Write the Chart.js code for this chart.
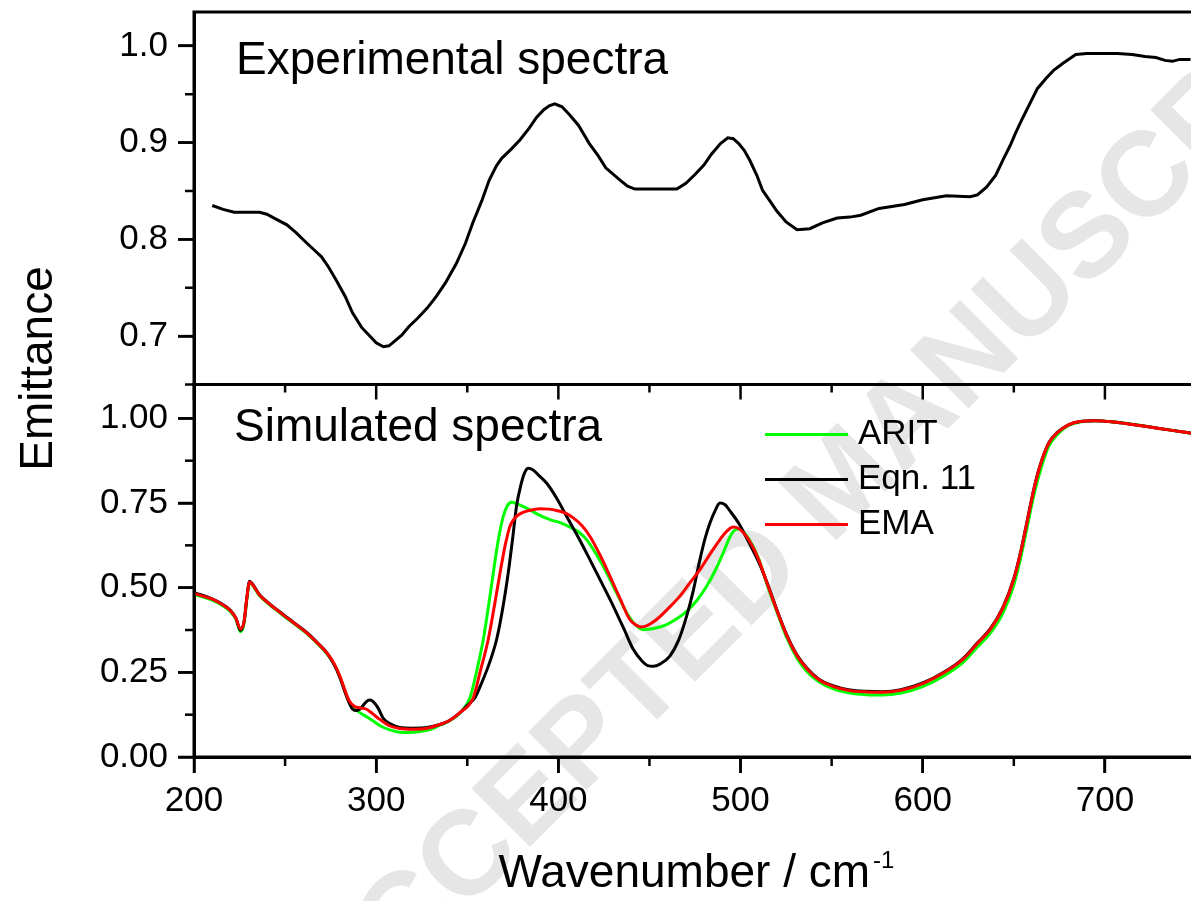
<!DOCTYPE html>
<html>
<head>
<meta charset="utf-8">
<script src="https://cdn.jsdelivr.net/npm/chart.js@4.4.1/dist/chart.umd.min.js"></script>
<style>
  html, body { margin: 0; padding: 0; background: #fff; overflow: hidden; }
  #wrap { width: 1191px; height: 901px; overflow: hidden; }
</style>
</head>
<body>
<div id="wrap"><canvas id="grafico" width="1196" height="901"></canvas></div>
<script>
// experimental spectrum (top panel)
const expX = [210, 216, 222, 230, 236, 240, 245, 251, 256, 262, 266, 270, 274, 278, 283, 287, 292, 297, 300, 304,
  307, 309, 314, 318, 323, 328, 333, 338, 344, 349, 353, 358, 362, 366, 369, 374, 379, 384, 388, 392,
  395, 398, 402, 406, 411, 417, 422, 426, 434, 438, 442, 450, 458, 465, 470, 475, 480, 484, 489, 493,
  496, 499, 502, 505, 509, 512, 516, 520, 525, 531, 538, 545, 553, 560, 566, 576, 590, 600, 613, 626,
  630, 635, 640, 644, 648, 651, 655, 659, 663, 668, 672, 677, 684, 690, 699, 707, 715, 722, 728, 733,
  737, 741, 747];
const expY = [0.835, 0.831, 0.828, 0.828, 0.828, 0.826, 0.821, 0.815, 0.807, 0.796, 0.789, 0.782, 0.771, 0.758, 0.741, 0.724, 0.709, 0.699, 0.693, 0.689,
  0.690, 0.693, 0.701, 0.710, 0.719, 0.729, 0.741, 0.755, 0.775, 0.796, 0.817, 0.840, 0.861, 0.876, 0.884, 0.893, 0.903, 0.915, 0.926, 0.934,
  0.938, 0.940, 0.937, 0.929, 0.918, 0.899, 0.886, 0.874, 0.861, 0.855, 0.852, 0.852, 0.852, 0.852, 0.858, 0.867, 0.877, 0.888, 0.899, 0.905,
  0.904, 0.899, 0.892, 0.882, 0.866, 0.851, 0.840, 0.829, 0.818, 0.810, 0.811, 0.817, 0.822, 0.823, 0.825, 0.832, 0.836, 0.841, 0.845, 0.844,
  0.846, 0.854, 0.866, 0.882, 0.897, 0.910, 0.926, 0.941, 0.956, 0.967, 0.975, 0.982, 0.991, 0.992, 0.992, 0.992, 0.991, 0.989, 0.988, 0.985,
  0.984, 0.986, 0.986];

// simulated spectra (bottom panel)
const aritX = [200, 205, 210, 215, 220, 223, 225.5, 227.5, 229, 230.5, 232, 236, 240, 247, 255, 262, 268, 273, 277, 280,
  283, 285, 288, 291, 295, 298.4, 303, 307.6, 312, 317, 324, 330, 335, 340, 346, 351.5, 355, 358.8, 361.5, 364.3,
  367, 369.8, 372, 374.4, 377, 382.6, 389, 395.4, 401, 406.4, 411, 415.5, 421, 426.5, 432, 437.5, 442, 446.6, 453, 459.4,
  465, 470.4, 476, 481.4, 486, 490.5, 494, 496, 498.7, 501, 505, 510, 514.5, 520, 525.5, 531, 536.5, 543, 551, 560,
  569, 578, 588, 600, 612, 622, 630, 637, 644, 650, 654, 657.5, 661, 664.8, 669, 674, 680, 687, 695, 705,
  715, 723, 735, 750];
const aritY = [0.480, 0.472, 0.463, 0.449, 0.429, 0.407, 0.370, 0.395, 0.465, 0.515, 0.508, 0.476, 0.456, 0.426, 0.393, 0.364, 0.333, 0.305, 0.273, 0.238,
  0.193, 0.165, 0.145, 0.131, 0.118, 0.106, 0.090, 0.080, 0.074, 0.072, 0.075, 0.082, 0.094, 0.106, 0.130, 0.175, 0.250, 0.347, 0.440, 0.544,
  0.640, 0.711, 0.742, 0.752, 0.748, 0.735, 0.716, 0.701, 0.692, 0.679, 0.665, 0.642, 0.597, 0.544, 0.484, 0.426, 0.392, 0.376, 0.380, 0.391,
  0.408, 0.430, 0.462, 0.504, 0.550, 0.603, 0.648, 0.666, 0.673, 0.668, 0.640, 0.585, 0.510, 0.428, 0.350, 0.292, 0.252, 0.222, 0.201, 0.189,
  0.184, 0.183, 0.189, 0.208, 0.241, 0.279, 0.325, 0.365, 0.425, 0.508, 0.593, 0.683, 0.773, 0.850, 0.916, 0.953, 0.979, 0.990, 0.993, 0.989,
  0.983, 0.976, 0.966, 0.954];

const eqnX = [200, 205, 210, 215, 220, 223, 225.5, 227.5, 229, 230.5, 232, 236, 240, 247, 255, 262, 268, 273, 277, 280,
  283, 285, 287, 289.5, 292, 294.5, 296.5, 298.5, 301, 304, 308, 313, 320, 328, 335, 340, 346, 350, 354.2, 358,
  362, 366.1, 369.5, 372.5, 375, 377, 379.5, 381.5, 383.5, 386, 389, 393.5, 399, 404.5, 411, 417.3, 424, 430.2, 436, 441.1,
  446, 449, 452.1, 456, 461.2, 466, 470.4, 474, 477.7, 480.5, 483.2, 486, 488.7, 491.5, 494, 499, 503, 507, 511, 514.5,
  520, 525.5, 531, 536.5, 543, 551, 560, 569, 578, 588, 600, 612, 622, 630, 637, 644, 650, 654, 657.5, 661,
  664.3, 669, 673.5, 680, 686.3, 695, 705, 715, 723, 735, 750];
const eqnY = [0.485, 0.477, 0.467, 0.453, 0.433, 0.410, 0.374, 0.400, 0.470, 0.519, 0.512, 0.479, 0.459, 0.429, 0.396, 0.367, 0.336, 0.307, 0.272, 0.236,
  0.190, 0.162, 0.142, 0.137, 0.147, 0.163, 0.168, 0.163, 0.145, 0.113, 0.097, 0.087, 0.085, 0.087, 0.096, 0.107, 0.131, 0.152, 0.175, 0.220,
  0.275, 0.347, 0.440, 0.544, 0.650, 0.740, 0.805, 0.840, 0.853, 0.848, 0.833, 0.809, 0.765, 0.711, 0.648, 0.583, 0.512, 0.445, 0.378, 0.318,
  0.283, 0.270, 0.268, 0.275, 0.298, 0.345, 0.416, 0.490, 0.583, 0.645, 0.691, 0.727, 0.750, 0.745, 0.728, 0.690, 0.650, 0.608, 0.563, 0.516,
  0.434, 0.359, 0.301, 0.262, 0.230, 0.210, 0.198, 0.194, 0.193, 0.199, 0.219, 0.252, 0.290, 0.337, 0.378, 0.442, 0.527, 0.612, 0.702, 0.792,
  0.859, 0.926, 0.957, 0.981, 0.991, 0.993, 0.989, 0.982, 0.976, 0.966, 0.954];

const emaX = [200, 205, 210, 215, 220, 223, 225.5, 227.5, 229, 230.5, 232, 236, 240, 247, 255, 262, 268, 273, 277, 280,
  283, 285, 288, 291, 294.7, 298, 302, 307, 313, 320, 328, 335, 340, 346, 353.3, 357, 361.5, 365, 368, 371,
  373.4, 376, 378.9, 384, 389.9, 395, 399, 404, 408.2, 413, 417.3, 423, 428.3, 434, 439.2, 442.5, 445.6, 449, 453.9, 460,
  466.7, 472, 477.7, 483, 488.7, 492.5, 496, 499, 502, 506, 510, 514.5, 520, 525.5, 531, 536.5, 543, 551, 560, 569,
  578, 588, 600, 612, 622, 630, 637, 644, 650, 654, 657.5, 661, 664.3, 669, 673.5, 680, 686.3, 695, 705, 715,
  723, 735, 750];
const emaY = [0.483, 0.475, 0.466, 0.452, 0.432, 0.410, 0.378, 0.400, 0.470, 0.517, 0.510, 0.478, 0.458, 0.428, 0.395, 0.366, 0.335, 0.307, 0.275, 0.240,
  0.195, 0.168, 0.150, 0.145, 0.141, 0.128, 0.111, 0.093, 0.084, 0.082, 0.085, 0.096, 0.107, 0.131, 0.175, 0.250, 0.347, 0.450, 0.544, 0.630,
  0.681, 0.705, 0.718, 0.728, 0.733, 0.732, 0.728, 0.720, 0.706, 0.683, 0.652, 0.595, 0.534, 0.466, 0.406, 0.390, 0.384, 0.389, 0.406, 0.437,
  0.475, 0.513, 0.553, 0.597, 0.642, 0.667, 0.679, 0.675, 0.660, 0.628, 0.582, 0.514, 0.432, 0.357, 0.299, 0.260, 0.228, 0.208, 0.196, 0.192,
  0.191, 0.197, 0.217, 0.250, 0.288, 0.335, 0.376, 0.440, 0.525, 0.610, 0.700, 0.790, 0.858, 0.925, 0.956, 0.981, 0.991, 0.993, 0.989, 0.982,
  0.976, 0.966, 0.954];

// ticks
const xTicks = [200, 300, 400, 500, 600, 700];
const xMinor = [250, 350, 450, 550, 650];
const topTicks = [0.7, 0.8, 0.9, 1.0];
const topMinor = [0.65, 0.75, 0.85, 0.95];
const botTicks = [0, 0.25, 0.5, 0.75, 1.0];
const botMinor = [0.125, 0.375, 0.625, 0.875];

const FONT = '"Liberation Sans", Arial, Helvetica, sans-serif';
Chart.defaults.font.family = FONT;
Chart.defaults.color = '#000';

function punti(xs, ys) {
    return xs.map((x, i) => ({ x: x, y: ys[i] }));
}

function asse(ticks, fmt) {
    return {
        type: 'linear',
        position: 'left',
        stack: 'pannelli',
        stackWeight: 1,
        afterBuildTicks: s => { s.ticks = ticks.map(v => ({ value: v })); },
        afterFit: s => { s.width = 194; s.paddingTop = 0; s.paddingBottom = 0; },
        ticks: { font: { size: 35 }, color: '#000', padding: 10, callback: v => v.toFixed(fmt) },
        grid: { display: true, drawOnChartArea: false, drawTicks: true, tickLength: 16, tickWidth: 2.5, tickColor: '#000' },
        border: { display: true, color: '#000', width: 3 }
    };
}

const yTop = Object.assign(asse(topTicks, 1), { min: 0.65, max: 1.035, weight: 1 });
const yBot = Object.assign(asse(botTicks, 2), { min: 0, max: 1.1, weight: 0 });

const cornice = {
    id: 'cornice',
    beforeDraw(chart) {
        // watermark
        const ctx = chart.ctx;
        ctx.save();
        ctx.translate(845, 485);
        ctx.rotate(-Math.PI / 4);
        ctx.font = 'bold 120px ' + FONT;
        ctx.fillStyle = '#e6e6e6';
        ctx.textAlign = 'center';
        ctx.textBaseline = 'middle';
        ctx.fillText('ACCEPTED MANUSCRIPT', 0, 0);
        ctx.restore();
    },
    afterDraw(chart) {
        const ctx = chart.ctx;
        const xs = chart.scales.x, yt = chart.scales.yTop, yb = chart.scales.yBot;
        const left = xs.left, right = xs.right;
        ctx.save();
        ctx.strokeStyle = '#000';
        ctx.lineWidth = 3;
        ctx.strokeRect(left, yt.top, right - left, yt.bottom - yt.top);
        ctx.strokeRect(left, yb.top, right - left, yb.bottom - yb.top);

        const tick = (x1, y1, x2, y2) => {
            ctx.beginPath(); ctx.moveTo(x1, y1); ctx.lineTo(x2, y2); ctx.stroke();
        };
        ctx.lineWidth = 2.5;
        xTicks.forEach(v => {
            const p = xs.getPixelForValue(v);
            tick(p, yt.bottom, p, yt.bottom + 15);
            tick(p, yb.bottom, p, yb.bottom + 16);
        });
        xMinor.forEach(v => {
            const p = xs.getPixelForValue(v);
            tick(p, yt.bottom, p, yt.bottom + 8);
            tick(p, yb.bottom, p, yb.bottom + 9);
        });
        topTicks.forEach(v => { const p = yt.getPixelForValue(v); tick(left - 16, p, left, p); });
        botTicks.forEach(v => { const p = yb.getPixelForValue(v); tick(left - 16, p, left, p); });
        topMinor.forEach(v => { const p = yt.getPixelForValue(v); tick(left - 9, p, left, p); });
        botMinor.forEach(v => { const p = yb.getPixelForValue(v); tick(left - 9, p, left, p); });

        // panel titles
        ctx.fillStyle = '#000';
        ctx.textAlign = 'left';
        ctx.textBaseline = 'alphabetic';
        ctx.font = '46px ' + FONT;
        ctx.fillText('Experimental spectra', left + 42, yt.top + 62);
        ctx.fillText('Simulated spectra', left + 40, yb.top + 56);

        // legend
        ctx.font = '35px ' + FONT;
        ctx.textBaseline = 'middle';
        const voci = [1, 2, 3];
        voci.forEach((di, i) => {
            const ds = chart.data.datasets[di];
            const y = yb.top + 50 + i * 45;
            ctx.strokeStyle = ds.borderColor;
            ctx.lineWidth = 3;
            tick(left + 571, y, left + 654, y);
            ctx.fillText(ds.label, left + 664, y);
        });

        // axis titles
        ctx.font = '46px ' + FONT;
        ctx.textBaseline = 'alphabetic';
        const main = 'Wavenumber / cm';
        const wMain = ctx.measureText(main).width;
        ctx.font = '24px ' + FONT;
        const wSup = ctx.measureText('-1').width;
        const x0 = (left + right) / 2 - (wMain + wSup) / 2;
        ctx.font = '46px ' + FONT;
        ctx.fillText(main, x0, 887);
        ctx.font = '24px ' + FONT;
        ctx.fillText('-1', x0 + wMain + 3, 868);

        ctx.save();
        ctx.translate(52, (yt.top + yb.bottom) / 2 - 16);
        ctx.rotate(-Math.PI / 2);
        ctx.font = '46px ' + FONT;
        ctx.textAlign = 'center';
        ctx.fillText('Emittance', 0, 0);
        ctx.restore();
        ctx.restore();
    }
};

const grafico = new Chart(document.getElementById('grafico'), {
    type: 'line',
    data: {
        datasets: [
            { label: 'Experimental', data: punti(expX, expY), yAxisID: 'yTop', borderColor: '#000000', borderWidth: 3, order: 0 },
            { label: 'ARIT', data: punti(aritX, aritY), yAxisID: 'yBot', borderColor: '#00ff00', borderWidth: 3, order: 3, cubicInterpolationMode: 'monotone' },
            { label: 'Eqn. 11', data: punti(eqnX, eqnY), yAxisID: 'yBot', borderColor: '#000000', borderWidth: 3, order: 2, cubicInterpolationMode: 'monotone' },
            { label: 'EMA', data: punti(emaX, emaY), yAxisID: 'yBot', borderColor: '#ff0000', borderWidth: 3, order: 1, cubicInterpolationMode: 'monotone' }
        ]
    },
    options: {
        responsive: false,
        animation: false,
        devicePixelRatio: 1,
        elements: { point: { radius: 0 }, line: { tension: 0 } },
        layout: { autoPadding: false, padding: { top: 12, left: 0, right: 0, bottom: 0 } },
        plugins: { legend: { display: false }, tooltip: { enabled: false } },
        scales: {
            x: {
                type: 'linear',
                position: 'bottom',
                min: 200,
                max: 750,
                afterBuildTicks: s => { s.ticks = xTicks.map(v => ({ value: v })); },
                afterFit: s => { s.height = 144; s.paddingLeft = 0; s.paddingRight = 0; },
                ticks: { font: { size: 35 }, color: '#000', padding: 7, maxRotation: 0, autoSkip: false, callback: v => String(v) },
                grid: { display: true, drawOnChartArea: false, drawTicks: true, tickLength: 16, tickWidth: 2.5, tickColor: '#000' },
                border: { display: true, color: '#000', width: 3 }
            },
            yTop: yTop,
            yBot: yBot
        }
    },
    plugins: [cornice]
});
</script>
</body>
</html>
